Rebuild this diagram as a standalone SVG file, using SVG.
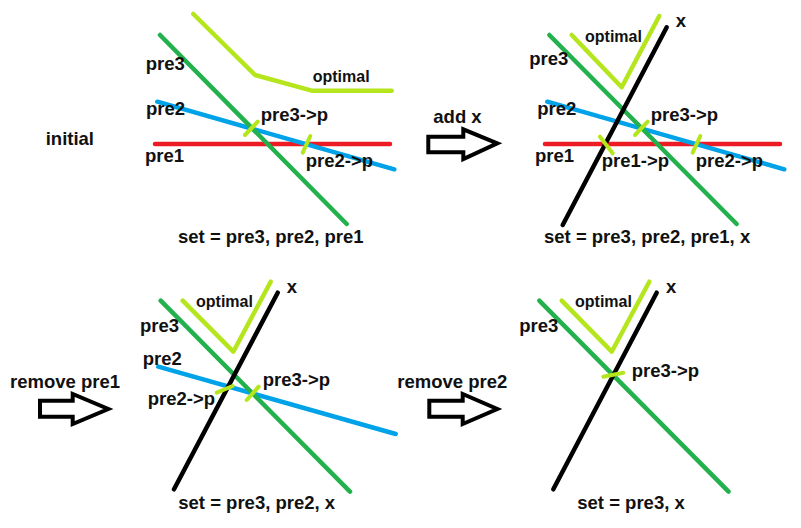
<svg xmlns="http://www.w3.org/2000/svg" width="801" height="528" viewBox="0 0 801 528">
<style>
text{font-family:"Liberation Sans",Arial,sans-serif;font-weight:bold;font-size:18.5px;fill:#111}
text.opt{font-size:16px}
.ln{fill:none;stroke-width:4.5;stroke-linecap:round;stroke-linejoin:round}
.opt-l{stroke:#b5e61d}
.p3{stroke:#22b14c}
.p2{stroke:#00a2e8}
.p1{stroke:#ed1c24}
.x{stroke:#000}
.tick{stroke:#b5e61d;stroke-width:4;stroke-linecap:round}
.arrow{fill:#fff;stroke:#000;stroke-width:4;stroke-linejoin:miter}
</style>
<rect width="801" height="528" fill="#fff"/>

<g id="panel-initial">
<polyline class="ln opt-l" points="193.3,14 255,75 311.7,90.7 391.7,90.7"/>
<line class="ln p1" x1="155" y1="144" x2="390" y2="144"/>
<line class="ln p2" x1="157.3" y1="101.7" x2="394.3" y2="169.3"/>
<line class="ln p3" x1="160" y1="35" x2="346.7" y2="224"/>
<line class="tick" x1="245" y1="135" x2="257.7" y2="121.7"/>
<line class="tick" x1="302.7" y1="152.7" x2="310.3" y2="136"/>
<text x="45.7" y="145">initial</text>
<text x="145.7" y="70">pre3</text>
<text class="opt" x="312.7" y="82">optimal</text>
<text x="146" y="115">pre2</text>
<text x="260.7" y="120.7">pre3-&gt;p</text>
<text x="145" y="162">pre1</text>
<text x="305.7" y="166.7">pre2-&gt;p</text>
<text x="178" y="243">set = pre3, pre2, pre1</text>
</g>

<g id="arrow-add-x">
<polygon class="arrow" points="428.3,136.7 463.3,136.7 463.3,129.3 497.3,143.3 463.3,159 463.3,152.3 428.3,152.3"/>
<text x="433.3" y="122.7">add x</text>
</g>

<g id="panel-add-x">
<polyline class="ln opt-l" points="571.7,35 621.7,87.3 659.3,16"/>
<line class="ln p1" x1="545" y1="144" x2="780" y2="144"/>
<line class="ln p2" x1="547.3" y1="101.7" x2="784.3" y2="169.3"/>
<line class="ln p3" x1="549.3" y1="35" x2="736.7" y2="224"/>
<line class="ln x" x1="666.7" y1="27.3" x2="562.7" y2="225"/>
<line class="tick" x1="600" y1="136.7" x2="612.7" y2="153.3"/>
<line class="tick" x1="635" y1="135" x2="647.7" y2="121.7"/>
<line class="tick" x1="692.7" y1="152.7" x2="700.3" y2="136"/>
<text x="675.7" y="26.7">x</text>
<text class="opt" x="585" y="41.7">optimal</text>
<text x="529.3" y="65">pre3</text>
<text x="537.3" y="115">pre2</text>
<text x="650.7" y="120.7">pre3-&gt;p</text>
<text x="535" y="162">pre1</text>
<text x="601.7" y="166.7">pre1-&gt;p</text>
<text x="695.7" y="166.7">pre2-&gt;p</text>
<text x="544" y="243.3">set = pre3, pre2, pre1, x</text>
</g>

<g id="arrow-remove-pre1">
<polygon class="arrow" points="40,400.7 72.7,400.7 72.7,394 108.3,409 72.7,424 72.7,416.7 40,416.7"/>
<text x="10" y="388.3">remove pre1</text>
</g>

<g id="panel-remove-pre1">
<polyline class="ln opt-l" points="182.7,300.7 233.3,351.7 270.7,281.7"/>
<line class="ln p2" x1="158.3" y1="366.7" x2="395.7" y2="434"/>
<line class="ln p3" x1="160.7" y1="300.7" x2="350" y2="491.7"/>
<line class="ln x" x1="277.7" y1="292.7" x2="174" y2="489.3"/>
<line class="tick" x1="216.7" y1="392.7" x2="232.7" y2="386"/>
<line class="tick" x1="246.7" y1="400" x2="258.7" y2="386.7"/>
<text x="286.7" y="292.7">x</text>
<text class="opt" x="196" y="306.7">optimal</text>
<text x="140" y="331.7">pre3</text>
<text x="142.7" y="365">pre2</text>
<text x="262.7" y="386">pre3-&gt;p</text>
<text x="147.7" y="405">pre2-&gt;p</text>
<text x="178.3" y="509.3">set = pre3, pre2, x</text>
</g>

<g id="arrow-remove-pre2">
<polygon class="arrow" points="429.3,400.7 462.7,400.7 462.7,394 497.3,409 462.7,424 462.7,416.7 429.3,416.7"/>
<text x="397.3" y="388.3">remove pre2</text>
</g>

<g id="panel-remove-pre2">
<polyline class="ln opt-l" points="561.7,300.7 611.7,351.7 649.3,281.7"/>
<line class="ln p3" x1="539.3" y1="300.7" x2="728.6" y2="491.7"/>
<line class="ln x" x1="656.7" y1="292.7" x2="553.3" y2="489.3"/>
<line class="tick" x1="603.3" y1="376.7" x2="623.3" y2="372.7"/>
<text x="666" y="292.7">x</text>
<text class="opt" x="575" y="306.7">optimal</text>
<text x="519.3" y="331.7">pre3</text>
<text x="631.7" y="377.3">pre3-&gt;p</text>
<text x="577.3" y="509.3">set = pre3, x</text>
</g>
</svg>
